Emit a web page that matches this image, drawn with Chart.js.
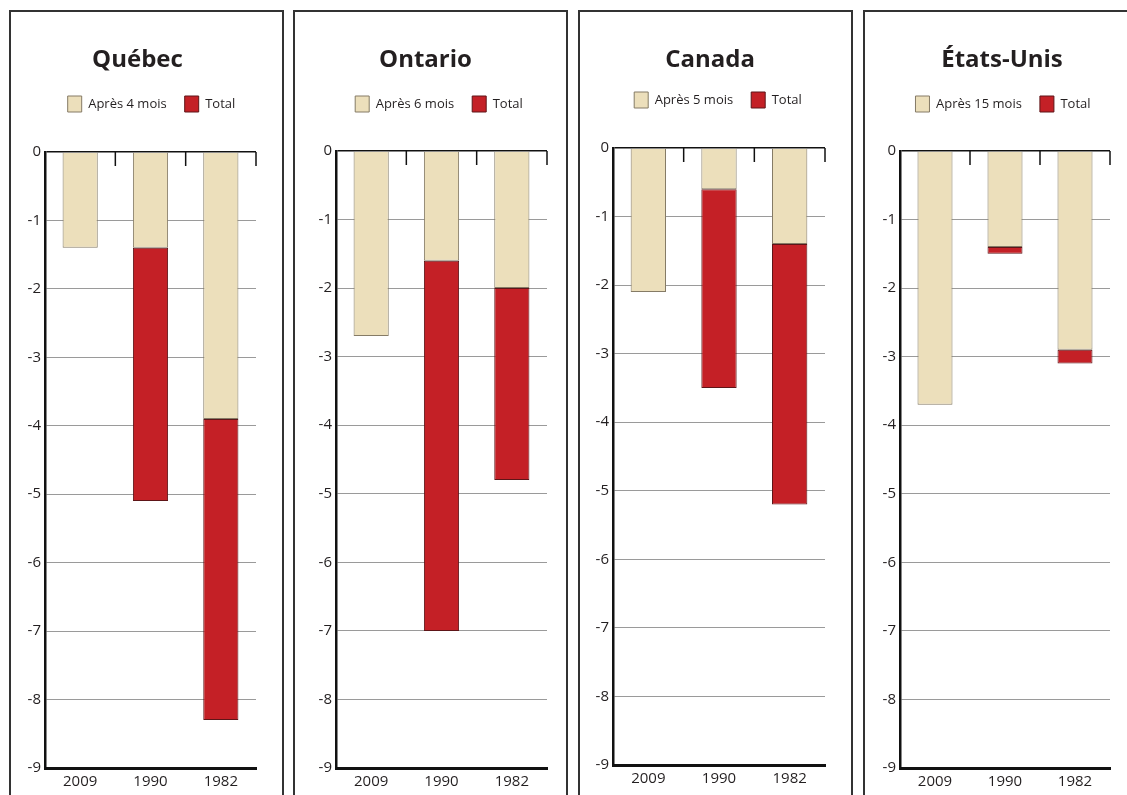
<!DOCTYPE html>
<html lang="fr">
<head>
<meta charset="utf-8">
<title>Emploi : récessions comparées</title>
<script src="https://cdn.jsdelivr.net/npm/chart.js@4.4.1/dist/chart.umd.min.js"></script>
<style>
  html, body { margin: 0; padding: 0; background: #fff; }
  body { width: 1127px; height: 795px; overflow: hidden; position: relative; }
  .cadre { position: absolute; top: 10px; width: 275px; height: 800px; border: 2px solid #333; box-sizing: border-box; }
  .graphe { position: absolute; top: 10px; width: 275px; height: 785px; }
</style>
</head>
<body>
<script>
// données (variation de l'emploi, en %)
const annees = ['2009', '1990', '1982'];
const regions = ['Québec', 'Ontario', 'Canada', 'États-Unis'];
const libellesApres = ['Après 4 mois', 'Après 6 mois', 'Après 5 mois', 'Après 15 mois'];

const quebecApres = [-1.4, -1.4, -3.9];
const quebecTotal = [-1.4, -5.1, -8.3];
const ontarioApres = [-2.7, -1.6, -2.0];
const ontarioTotal = [-2.7, -7.0, -4.8];
const canadaApres = [-2.1, -0.6, -1.4];
const canadaTotal = [-2.1, -3.5, -5.2];
const usaApres = [-3.7, -1.4, -2.9];
const usaTotal = [-3.7, -1.5, -3.1];

const yMin = -9;
const yMax = 0;

const series = [
    [quebecApres, quebecTotal],
    [ontarioApres, ontarioTotal],
    [canadaApres, canadaTotal],
    [usaApres, usaTotal]
];

// mise en page de chaque cadre (en pixels de la page)
const cadres = [
    { x: 9,   axe: 45,  droite: 256,  zero: 152, bas: 768, titreX: 137.5, titreY: 60, legX: 151.5, legY: 104 },
    { x: 293, axe: 336, droite: 547,  zero: 151, bas: 768, titreX: 425.5, titreY: 60, legX: 439,   legY: 104 },
    { x: 578, axe: 613, droite: 825,  zero: 148, bas: 765, titreX: 710,   titreY: 60, legX: 718,   legY: 100 },
    { x: 863, axe: 900, droite: 1110, zero: 151, bas: 768, titreX: 1002,  titreY: 60, legX: 1003,  legY: 104 }
];

const BEIGE = '#ecdfbb';
const BEIGE_BORD = '#857b66';
const ROUGE = '#c42026';
const ROUGE_BORD = '#5e1518';
const TEXTE = '#231f20';

Chart.defaults.font.family = '"Open Sans", sans-serif';
Chart.defaults.color = TEXTE;

// petits traits verticaux sous la ligne du zéro, aux limites des catégories
const reperesHaut = {
    id: 'reperesHaut',
    afterDatasetsDraw(chart) {
        const { ctx, chartArea, scales: { x } } = chart;
        const pas = (chartArea.right - chartArea.left) / x.ticks.length;
        ctx.save();
        ctx.strokeStyle = '#111';
        ctx.lineWidth = 1.5;
        x.ticks.forEach((t, i) => {
            const px = x.getPixelForTick(i) + pas / 2;
            ctx.beginPath();
            ctx.moveTo(px, chartArea.top);
            ctx.lineTo(px, chartArea.top + 14);
            ctx.stroke();
        });
        ctx.restore();
    }
};

// espace sous la légende + décalage horizontal du titre et de la légende
const decalage = {
    id: 'decalage',
    beforeLayout(chart, args, opts) {
        const leg = chart.legend;
        if (leg && !leg._margeAjoutee) {
            const fitOrig = leg.fit;
            leg.fit = function () {
                fitOrig.call(this);
                this.height += opts.marge;
            };
            leg._margeAjoutee = true;
        }
    },
    afterLayout(chart, args, opts) {
        const t = chart.titleBlock;
        if (t) { t.left += opts.titre; t.right += opts.titre; }
        const l = chart.legend;
        if (l) { l.left += opts.legende; l.right += opts.legende; }
    }
};

const LARGEUR_Y = 30;
const LARGEUR = 275;
const HAUTEUR = 785;
const HAUT = 10;
const PAD_LEG = 18;
const BOITE_H = 16;
const HAUTEUR_X = 24;

regions.forEach((nom, k) => {
    const c = cadres[k];
    const [apres, total] = series[k];

    const cadre = document.createElement('div');
    cadre.className = 'cadre';
    cadre.style.left = c.x + 'px';
    document.body.appendChild(cadre);

    const boite = document.createElement('div');
    boite.className = 'graphe';
    boite.style.left = c.x + 'px';
    const canvas = document.createElement('canvas');
    boite.appendChild(canvas);
    document.body.appendChild(boite);

    const padGauche = c.axe - c.x - LARGEUR_Y;
    const padDroite = c.x + LARGEUR - c.droite;
    const titreHaut = c.titreY - HAUT - 12;
    const legHaut = c.legY - HAUT - PAD_LEG - BOITE_H / 2;
    const titreBas = legHaut - (titreHaut + 24);
    const marge = (c.zero - HAUT) - legHaut - (BOITE_H + PAD_LEG + 10);
    const padBas = HAUTEUR - HAUTEUR_X - (c.bas - HAUT);
    const centreBoite = c.x + (padGauche + LARGEUR - padDroite) / 2;

    const rouge = apres.map((a, i) => total[i] < a ? [a, total[i]] : null);

    new Chart(canvas, {
        type: 'bar',
        data: {
            labels: annees,
            datasets: [{
                label: libellesApres[k],
                data: apres,
                backgroundColor: BEIGE,
                borderColor: BEIGE_BORD,
                borderWidth: 1,
                borderSkipped: 'start'
            }, {
                label: 'Total',
                data: rouge,
                backgroundColor: ROUGE,
                borderColor: ROUGE_BORD,
                borderWidth: 1,
                borderSkipped: false
            }]
        },
        options: {
            responsive: true,
            maintainAspectRatio: false,
            animation: false,
            layout: { padding: { left: padGauche, right: padDroite, top: 0, bottom: padBas } },
            datasets: { bar: { grouped: false, categoryPercentage: 1, barPercentage: 0.5 } },
            plugins: {
                title: {
                    display: true,
                    text: nom,
                    color: TEXTE,
                    font: { size: 24, weight: 'bold', lineHeight: 1 },
                    padding: { top: titreHaut, bottom: titreBas }
                },
                legend: {
                    display: true,
                    position: 'top',
                    labels: {
                        boxWidth: 14,
                        boxHeight: BOITE_H,
                        padding: PAD_LEG,
                        color: TEXTE,
                        font: { size: 13 }
                    }
                },
                tooltip: { enabled: false },
                decalage: {
                    marge: marge,
                    titre: c.titreX - centreBoite,
                    legende: c.legX - centreBoite
                }
            },
            scales: {
                x: {
                    grid: { display: false, drawTicks: false },
                    border: { display: true, color: '#111', width: 3 },
                    ticks: { padding: 5, font: { size: 15 }, color: TEXTE },
                    afterFit(scale) { scale.height = HAUTEUR_X; }
                },
                y: {
                    min: yMin,
                    max: yMax,
                    ticks: { stepSize: 1, padding: 4, font: { size: 15 }, color: TEXTE },
                    grid: {
                        drawTicks: false,
                        color: ctx => ctx.tick && ctx.tick.value === 0 ? '#111' : '#9a9a9a',
                        lineWidth: ctx => ctx.tick && ctx.tick.value === 0 ? 1.5 : 1
                    },
                    border: { display: true, color: '#111', width: 2.5 },
                    afterFit(scale) { scale.width = LARGEUR_Y; }
                }
            }
        },
        plugins: [reperesHaut, decalage]
    });
});
</script>
</body>
</html>
